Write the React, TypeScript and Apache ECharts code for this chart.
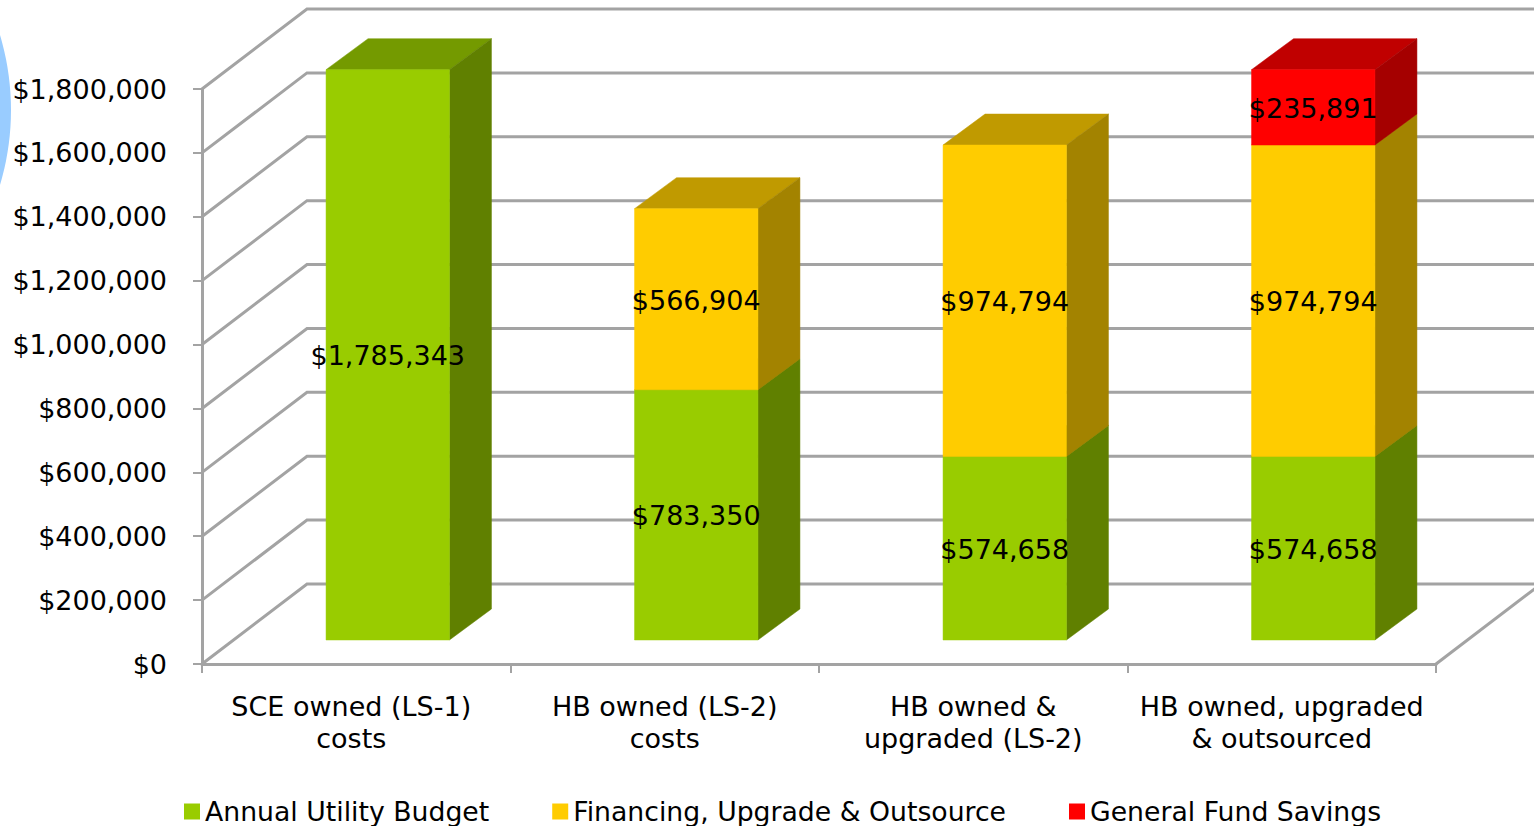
import React, { useEffect, useRef } from "react";
import * as echarts from "echarts";

const categories = [
  "SCE owned (LS-1)\ncosts",
  "HB owned (LS-2)\ncosts",
  "HB owned &\nupgraded (LS-2)",
  "HB owned, upgraded\n& outsourced",
];
const annualUtilityBudget = [1785343, 783350, 574658, 574658];
const financingUpgradeOutsource = [null, 566904, 974794, 974794];
const generalFundSavings = [null, null, null, 235891];
const seriesNames = ["Annual Utility Budget", "Financing, Upgrade & Outsource", "General Fund Savings"];
const yTicks = [0, 200000, 400000, 600000, 800000, 1000000, 1200000, 1400000, 1600000, 1800000];

const FONT = "DejaVu Sans";
const GRID = "#a3a3a3";
const DEPTH_X = 105;
const DEPTH_Y = 80;
const BAR_DX = 31.5;
const BAR_DY = 24;
const SIDE_DX = 42;
const SIDE_DY = 31;

const palettes = [
  { face: "#99cc00", top: "#749a00", side: "#608000" },
  { face: "#ffcc00", top: "#c09a00", side: "#a38300" },
  { face: "#ff0000", top: "#c00000", side: "#a50000" },
];

function money(v: number) {
  return "$" + v.toLocaleString("en-US");
}

function stackData(values: (number | null)[], below: (number | null)[][]) {
  const out: any[] = [];
  values.forEach((v, i) => {
    if (v == null) return;
    const start = below.reduce((s, arr) => s + (arr[i] ?? 0), 0);
    out.push([i, start, start + v, v]);
  });
  return out;
}

function barRender(p: { face: string; top: string; side: string }) {
  return (_params: any, api: any) => {
    const cat = api.value(0);
    const low = api.coord([cat, api.value(1)]);
    const high = api.coord([cat, api.value(2)]);
    const w = api.size([1, 0])[0] * 0.4;
    const l = low[0] + BAR_DX - w / 2;
    const r = l + w;
    const b = low[1] - BAR_DY;
    const t = high[1] - BAR_DY;
    const poly = (points: number[][], fill: string) => ({
      type: "polygon",
      shape: { points },
      style: { fill, stroke: fill, lineWidth: 0.5 },
    });
    return {
      type: "group",
      children: [
        poly([[l, t], [r, t], [r + SIDE_DX, t - SIDE_DY], [l + SIDE_DX, t - SIDE_DY]], p.top),
        poly([[r, t], [r + SIDE_DX, t - SIDE_DY], [r + SIDE_DX, b - SIDE_DY], [r, b]], p.side),
        poly([[l, t], [r, t], [r, b], [l, b]], p.face),
        {
          type: "text",
          x: (l + r) / 2,
          y: (t + b) / 2 + 1,
          z2: 10,
          style: {
            text: money(api.value(3)),
            fill: "#000",
            font: `27px "${FONT}"`,
            align: "center",
            verticalAlign: "middle",
          },
        },
      ],
    };
  };
}

function wallRender(params: any, api: any) {
  const v = api.value(0);
  const sys = params.coordSys;
  const y = api.coord([0, v])[1];
  const x0 = sys.x;
  const x1 = sys.x + sys.width;
  const children: any[] = [
    {
      type: "polyline",
      shape: { points: [[x0, y], [x0 + DEPTH_X, y - DEPTH_Y], [x1 + DEPTH_X, y - DEPTH_Y]] },
      style: { fill: "none", stroke: GRID, lineWidth: 3 },
    },
  ];
  if (v === 0) {
    children.push({
      type: "line",
      shape: { x1, y1: y, x2: x1 + DEPTH_X, y2: y - DEPTH_Y },
      style: { stroke: GRID, lineWidth: 3 },
    });
  }
  return { type: "group", children };
}

export default function App() {
  const ref = useRef<HTMLDivElement>(null);
  useEffect(() => {
    const chart = echarts.init(ref.current!, null, { renderer: "svg" });
    const datasets = [
      stackData(annualUtilityBudget, []),
      stackData(financingUpgradeOutsource, [annualUtilityBudget]),
      stackData(generalFundSavings, [annualUtilityBudget, financingUpgradeOutsource]),
    ];
    chart.setOption({
      animation: false,
      backgroundColor: "#ffffff",
      grid: { left: 202, right: 98, top: 89, bottom: 162, containLabel: false },
      graphic: [
        {
          type: "circle",
          shape: { cx: -250, cy: 110, r: 261 },
          style: { fill: "#99ccff" },
          silent: true,
        },
      ],
      legend: {
        left: 184,
        top: 798,
        padding: 0,
        itemWidth: 16,
        itemHeight: 16,
        itemGap: 63,
        icon: "rect",
        data: seriesNames,
        selectedMode: false,
        textStyle: { fontFamily: FONT, fontSize: 26.7, color: "#000" },
      },
      xAxis: {
        type: "category",
        data: categories.map((value, i) =>
          i === 0 ? { value, textStyle: { padding: [0, 10, 0, 0] } } : { value },
        ),
        axisLine: { lineStyle: { color: GRID, width: 3 } },
        axisTick: { show: true, length: 9, lineStyle: { color: GRID, width: 2 } },
        axisLabel: {
          interval: 0,
          margin: 26,
          fontFamily: FONT,
          fontSize: 27,
          lineHeight: 32,
          color: "#000",
        },
      },
      yAxis: {
        type: "value",
        min: 0,
        max: 1800000,
        interval: 200000,
        splitLine: { show: false },
        axisLine: { show: true, lineStyle: { color: GRID, width: 3 } },
        axisTick: { show: true, length: 9, lineStyle: { color: GRID, width: 2 } },
        axisLabel: {
          margin: 35,
          fontFamily: FONT,
          fontSize: 27,
          color: "#000",
          padding: [4, 0, 0, 0],
          formatter: (v: number) => money(v),
        },
      },
      series: [
        {
          type: "custom",
          name: "walls",
          silent: true,
          clip: false,
          z: 1,
          coordinateSystem: "cartesian2d",
          encode: { y: 0 },
          data: yTicks.map((v) => [v]),
          renderItem: wallRender,
        },
        ...seriesNames.map((name, i) => ({
          type: "custom",
          name,
          clip: false,
          z: 3 + i,
          coordinateSystem: "cartesian2d",
          itemStyle: { color: palettes[i].face },
          encode: { x: 0, y: [1, 2] },
          data: datasets[i],
          renderItem: barRender(palettes[i]),
        })),
      ],
    });
    return () => chart.dispose();
  }, []);
  return <div ref={ref} style={{ position: "fixed", left: 0, top: 0, width: 1534, height: 826 }} />;
}
